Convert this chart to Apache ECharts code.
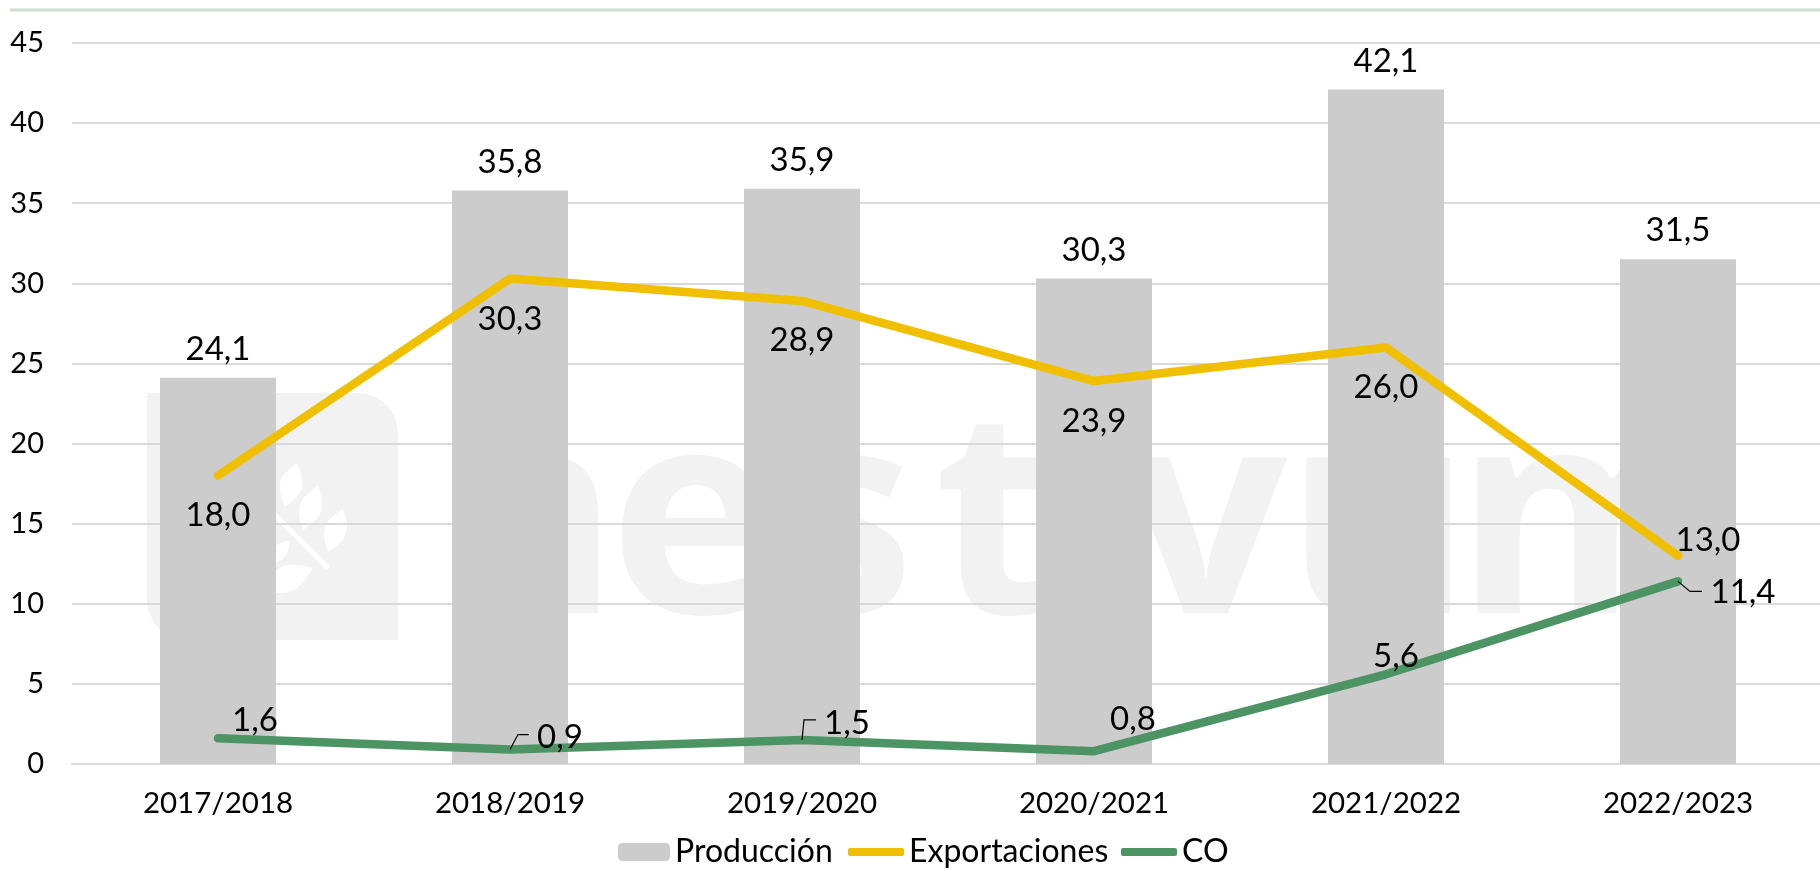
<!DOCTYPE html>
<html><head><meta charset="utf-8">
<style>html,body{margin:0;padding:0;background:#fff}#c{width:1820px;height:870px}</style>
<script src="https://cdn.jsdelivr.net/npm/echarts@6/dist/echarts.min.js"></script>
</head><body><div id="c"></div>
<script>
const categories = ['2017/2018','2018/2019','2019/2020','2020/2021','2021/2022','2022/2023'];
const produccion = [24.1,35.8,35.9,30.3,42.1,31.5];
const exportaciones = [18.0,30.3,28.9,23.9,26.0,13.0];
const co = [1.6,0.9,1.5,0.8,5.6,11.4];
const FONT = 'Lato';
const fmt = p => p.value.toFixed(1).replace('.', ',');
const expOffsets = [[0,40],[0,41],[0,39],[0,40],[0,40],[30,-15]];
const coOffsets = [[37,-18],[50,-12],[45,-17],[39,-32],[10,-18],[65,11]];
const leaders = {1:[[8,-15],[19,-15]],2:[[2,-20],[14,-20]],5:[[12,10],[24,10]]};
const watermarkLetters = ['h','e','s','t','v','u','m'];
const watermarkX = [432,609,773,934,1125,1285,1455];

function labelAt(offsets){
  return offsets.map(o => ({label:{show:true,position:'inside',offset:o}}));
}
function leaf(bx,by,tx,ty,w){
  const dx=tx-bx,dy=ty-by,l=Math.hypot(dx,dy),nx=-dy/l*w,ny=dx/l*w;
  const pts=[];
  for(let i=0;i<=16;i++){const t=i/16,b=Math.sin(Math.PI*t);pts.push([bx+dx*t+nx*b,by+dy*t+ny*b]);}
  for(let i=15;i>0;i--){const t=i/16,b=Math.sin(Math.PI*t);pts.push([bx+dx*t-nx*b,by+dy*t-ny*b]);}
  return {type:'polygon',z:-1,shape:{points:pts},style:{fill:'#fff'}};
}
const legendText = {fontFamily:FONT,fontSize:32,color:'#000'};
const chart = echarts.init(document.getElementById('c'),null,{renderer:'canvas'});
chart.setOption({
  animation:false,
  backgroundColor:'#fff',
  textStyle:{fontFamily:FONT,color:'#000'},
  graphic:[
    {type:'line',z:-1,shape:{x1:10,y1:10,x2:1820,y2:10},style:{stroke:'#c9dfd0',lineWidth:3}},
    {type:'rect',z:-2,shape:{x:147,y:393,width:251,height:247,r:[0,40,0,40]},style:{fill:'#f2f2f2'}},
    leaf(285,507,297,463,11),leaf(303,530,318,486,11),leaf(328,552,343,509,11),
    leaf(260,590,313,568,13),leaf(268,565,290,540,7),
    {type:'line',z:-1,shape:{x1:270,y1:510,x2:328,y2:568},style:{stroke:'#fff',lineWidth:5}},
    ...watermarkLetters.map((ch,i)=>({type:'text',z:-2,style:{x:watermarkX[i],y:532,text:ch,fill:'#f2f2f2',font:'bold 285px "Open Sans"',verticalAlign:'middle'}}))
  ],
  grid:{left:72,width:1752,top:43,height:721,outerBoundsMode:'none'},
  legend:[
    {left:613,top:831,padding:5,itemWidth:52,itemHeight:18,selectedMode:false,data:['Producción'],textStyle:legendText},
    {left:843,top:831,padding:5,itemWidth:56,itemHeight:8,icon:'roundRect',selectedMode:false,data:['Exportaciones'],textStyle:legendText},
    {left:1116,top:831,padding:5,itemWidth:56,itemHeight:8,icon:'roundRect',selectedMode:false,data:['CO'],textStyle:legendText}
  ],
  xAxis:{type:'category',data:categories,
    axisLine:{lineStyle:{color:'#d9d9d9',width:2}},axisTick:{show:false},
    axisLabel:{fontFamily:FONT,fontSize:29.5,color:'#000',margin:24}},
  yAxis:{type:'value',min:0,max:45,interval:5,
    axisLine:{show:false},axisTick:{show:false},
    splitLine:{lineStyle:{color:'#d9d9d9',width:2}},
    axisLabel:{fontFamily:FONT,fontSize:29,color:'#000',margin:28}},
  series:[
    {name:'Producción',type:'bar',data:produccion,barWidth:116,
     itemStyle:{color:'#cccccc'},
     label:{show:true,position:'top',distance:12,fontFamily:FONT,fontSize:33,color:'#000',formatter:fmt}},
    {name:'Exportaciones',type:'line',data:exportaciones.map((v,i)=>Object.assign({value:v},labelAt(expOffsets)[i])),
     symbol:'circle',symbolSize:1,showSymbol:true,z:3,
     lineStyle:{color:'#f0bf00',width:8.5,cap:'round',join:'round'},itemStyle:{color:'#f0bf00'},
     label:{show:true,fontFamily:FONT,fontSize:33,color:'#000',formatter:fmt}},
    {name:'CO',type:'line',data:co.map((v,i)=>Object.assign({value:v},labelAt(coOffsets)[i])),
     symbol:'circle',symbolSize:1,showSymbol:true,z:4,
     lineStyle:{color:'#4c9463',width:8.5,cap:'round',join:'round'},itemStyle:{color:'#4c9463'},
     label:{show:true,fontFamily:FONT,fontSize:33,color:'#000',formatter:fmt}},
    {name:'guias',type:'custom',z:5,silent:true,
     data:Object.keys(leaders).map(k=>[+k,co[+k]]),
     renderItem:(params,api)=>{
       const p=api.coord([api.value(0),api.value(1)]);
       const pts=[p].concat(leaders[api.value(0)].map(o=>[p[0]+o[0],p[1]+o[1]]));
       return {type:'polyline',shape:{points:pts},style:{stroke:'#000',lineWidth:1.2,fill:null}};
     }}
  ]
});
</script></body></html>
